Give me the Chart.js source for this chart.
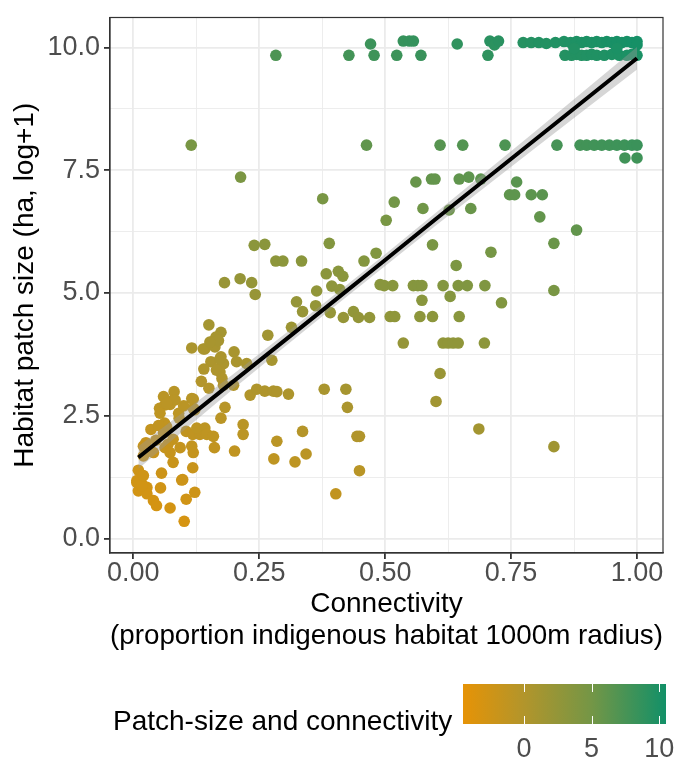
<!DOCTYPE html>
<html>
<head>
<meta charset="utf-8">
<script src="https://cdn.jsdelivr.net/npm/chart.js@4.4.1/dist/chart.umd.min.js"></script>
<style>
  html, body { margin: 0; padding: 0; background: #fff; }
  #wrap { position: relative; width: 675px; height: 760px; font-family: "Liberation Sans", Arial, sans-serif; }
  #chart { position: absolute; left: 0; top: 0; }
  #legend-title { position: absolute; left: 113px; top: 706px; height: 30px; line-height: 30px; font-size: 28px; color: #000; white-space: nowrap; }
  #colorbar { position: absolute; left: 463px; top: 684px; width: 203px; height: 40px; }
  .cb-tick { position: absolute; width: 1px; background: #fff; }
  .cb-label { position: absolute; top: 733px; width: 40px; margin-left: -20px; text-align: center; font-size: 27px; line-height: 30px; color: #4d4d4d; }
</style>
</head>
<body>
<div id="wrap">
  <canvas id="chart" width="675" height="760"></canvas>
  <div id="legend-title">Patch-size and connectivity</div>
  <div id="colorbar"></div>
</div>
<script>
// --- Data ---
// x: connectivity (proportion indigenous habitat, 1000m radius)
// y: habitat patch size (ha, log+1)
const connectivity = [
  0.471, 0.536, 0.548, 0.556, 0.643, 0.708, 0.717, 0.725, 0.774, 0.79, 0.805, 0.82, 0.838, 0.855, 0.868, 0.88, 0.89, 0.9, 0.91, 0.92, 0.93, 0.94, 0.95, 0.96, 0.97, 0.98, 0.99, 1.0, 1.0,
  0.283, 0.428, 0.478, 0.523, 0.571, 0.704, 0.857, 0.87, 0.88, 0.89, 0.9, 0.91, 0.92, 0.935, 0.95, 0.965, 0.98, 0.99, 1.0, 0.875, 0.96,
  0.115, 0.463, 0.609, 0.654, 0.738, 0.841, 0.887, 0.9, 0.915, 0.93, 0.945, 0.96, 0.975, 0.99, 1.0, 0.976, 1.0,
  0.213, 0.561, 0.592, 0.599, 0.647, 0.666, 0.69, 0.761, 0.747, 0.757, 0.79, 0.812, 0.807, 0.88, 0.518, 0.575, 0.627, 0.67, 0.502, 0.594,
  0.71, 0.835, 0.641, 0.376, 0.24, 0.261, 0.389, 0.283, 0.297, 0.334, 0.458, 0.482, 0.383, 0.407, 0.416, 0.181, 0.212, 0.235, 0.242,
  0.49, 0.498, 0.515, 0.556, 0.565, 0.573, 0.615, 0.645, 0.663, 0.698, 0.573, 0.629, 0.731, 0.835, 0.51, 0.519, 0.569, 0.594, 0.647,
  0.536, 0.615, 0.625, 0.635, 0.645, 0.697, 0.609, 0.601, 0.686, 0.835,
  0.324, 0.364, 0.336, 0.362, 0.391, 0.394, 0.41, 0.417, 0.437, 0.447, 0.469, 0.314, 0.267, 0.275, 0.15, 0.174, 0.164, 0.156, 0.142, 0.116,
  0.2, 0.154, 0.174, 0.179, 0.168, 0.172, 0.176, 0.179, 0.205, 0.225, 0.15, 0.199, 0.232, 0.245, 0.261, 0.278, 0.285, 0.308, 0.379, 0.422,
  0.425, 0.182, 0.174,
  0.119, 0.119, 0.081, 0.079, 0.073, 0.06, 0.052, 0.063, 0.091, 0.062, 0.066, 0.035, 0.105, 0.118, 0.132, 0.126, 0.142, 0.146, 0.159, 0.06,
  0.069, 0.079, 0.093, 0.063, 0.161, 0.116, 0.119, 0.02, 0.03, 0.04, 0.02, 0.073, 0.079, 0.201, 0.285, 0.336, 0.279, 0.321, 0.343, 0.218,
  0.218, 0.444, 0.449, 0.449, 0.402,
  0.118, 0.098, 0.122, 0.105, 0.056, 0.054, 0.073, 0.101, 0.01, 0.007, 0.017, 0.027, 0.01, 0.027, 0.04, 0.046, 0.007, 0.017, 0.02, 0.096,
  0.162, 0.169, 0.139, 0.152, 0.172, 0.165, 0.116, 0.122, 0.083, 0.066, 0.053, 0.025, 0.045, 0.05, 0.09, 0.1, 0.135, 0.14
];
const patchSize = [
  10.07, 10.13, 10.13, 10.13, 10.07, 10.13, 10.05, 10.13, 10.1, 10.1, 10.1, 10.08, 10.1, 10.12, 10.1, 10.12, 10.1, 10.12, 10.1, 10.12, 10.1, 10.12, 10.1, 10.12, 10.1, 10.12, 10.1, 10.12, 10.05,
  9.84, 9.84, 9.84, 9.84, 9.84, 9.84, 9.84, 9.84, 9.86, 9.84, 9.84, 9.86, 9.84, 9.84, 9.86, 9.84, 9.84, 9.86, 9.84, 9.98, 9.98,
  8.01, 8.01, 8.01, 8.01, 8.01, 8.01, 8.01, 8.01, 8.01, 8.01, 8.01, 8.01, 8.01, 8.01, 8.01, 7.75, 7.75,
  7.36, 7.26, 7.32, 7.32, 7.32, 7.36, 7.32, 7.26, 7.0, 7.0, 7.0, 7.0, 6.55, 6.28, 6.85, 6.72, 6.69, 6.72, 6.48, 5.98,
  5.83, 6.01, 5.56, 6.92, 5.97, 5.99, 6.01, 5.65, 5.65, 5.65, 5.65, 5.81, 5.39, 5.44, 5.34, 5.21, 5.29, 5.21, 4.97,
  5.17, 5.15, 5.15, 5.15, 5.15, 5.15, 5.15, 5.15, 5.15, 5.15, 4.85, 4.93, 4.8, 5.05, 4.52, 4.52, 4.52, 4.52, 4.52,
  3.98, 3.98, 3.98, 3.98, 3.98, 3.98, 3.36, 2.79, 2.23, 1.87,
  4.82, 5.04, 4.62, 4.74, 4.6, 5.14, 5.07, 4.5, 4.62, 4.5, 4.5, 4.3, 4.14, 3.63, 4.35, 4.2, 4.1, 4.0, 3.86, 3.88,
  3.8, 3.6, 3.7, 3.56, 3.46, 3.39, 3.26, 3.12, 3.6, 3.56, 3.06, 3.12, 2.92, 3.04, 3.0, 3.0, 2.99, 2.94, 3.04, 3.04,
  2.67, 2.67, 2.45,
  2.84, 2.65, 2.99, 2.82, 2.73, 2.89, 2.65, 2.72, 2.45, 2.35, 2.28, 2.22, 2.18, 2.12, 2.12, 2.25, 2.25, 2.12, 2.08, 2.15,
  1.92, 2.02, 1.85, 1.85, 1.85, 1.88, 1.75, 1.88, 1.78, 1.75, 1.68, 1.75, 1.55, 1.78, 1.98, 2.18, 1.62, 1.56, 1.72, 2.32,
  2.12, 2.08, 2.08, 1.38, 0.91,
  1.44, 1.2, 0.94, 0.8, 1.33, 1.03, 0.62, 0.35, 1.39, 1.18, 1.11, 1.04, 0.97, 0.91, 0.77, 0.67, 1.14, 1.07, 1.28, 1.19,
  3.9, 4.03, 3.86, 4.0, 3.66, 3.43, 2.85, 2.62, 2.82, 2.75, 2.55, 1.95, 2.0, 2.3, 2.55, 2.7, 3.2, 3.45
];

// linear fit and its confidence band
const fitX = [0.01, 0.1, 0.2, 0.3, 0.4, 0.5, 0.6, 0.7, 0.8, 0.9, 1.0];
const fitY = [1.65, 2.39, 3.21, 4.03, 4.85, 5.67, 6.5, 7.32, 8.14, 8.96, 9.78];
const bandLower = [1.42, 2.2, 3.06, 3.9, 4.73, 5.55, 6.37, 7.17, 7.97, 8.76, 9.55];
const bandUpper = [1.88, 2.58, 3.36, 4.16, 4.97, 5.79, 6.63, 7.47, 8.31, 9.16, 10.01];

const xTicks = [0, 0.125, 0.25, 0.375, 0.5, 0.625, 0.75, 0.875, 1];
const yTicks = [0, 1.25, 2.5, 3.75, 5, 6.25, 7.5, 8.75, 10];
const legendTicks = [0, 5, 10];
const legendRange = [-4.5, 10.5];

// colour scale (orange -> green)
const colourStops = [
  [0, [230, 147, 6]],
  [0.3, [178, 149, 43]],
  [0.633, [116, 150, 70]],
  [1, [18, 144, 104]]
];

const FONT = "'Liberation Sans', Arial, sans-serif";

function colourAt(t) {
  t = Math.max(0, Math.min(1, t));
  for (let i = 1; i < colourStops.length; i++) {
    const [t1, c1] = colourStops[i];
    const [t0, c0] = colourStops[i - 1];
    if (t <= t1) {
      const f = (t - t0) / (t1 - t0);
      const c = c0.map((v, k) => Math.round(v + (c1[k] - v) * f));
      return `rgb(${c[0]},${c[1]},${c[2]})`;
    }
  }
  return "rgb(18,144,104)";
}

// combined patch-size/connectivity score used for point colour
function scoreColour(x, y) {
  const score = y + 4 * x - 3.8;
  return colourAt((score - legendRange[0]) / (legendRange[1] - legendRange[0]));
}

function isMajor(v, step) {
  return Math.abs(v / step - Math.round(v / step)) < 1e-6;
}

const points = connectivity.map((x, i) => ({ x, y: patchSize[i] }));
const pointColours = points.map((p) => scoreColour(p.x, p.y));

const panelBorder = {
  id: "panelBorder",
  afterDraw(chart) {
    const { ctx, chartArea: a } = chart;
    ctx.save();
    ctx.strokeStyle = "#333333";
    ctx.lineWidth = 1.2;
    ctx.strokeRect(a.left, a.top, a.right - a.left, a.bottom - a.top);
    ctx.restore();
  },
};

const ctx = document.getElementById("chart").getContext("2d");
new Chart(ctx, {
  type: "scatter",
  data: {
    datasets: [
      {
        type: "line",
        label: "fit",
        data: fitX.map((x, i) => ({ x, y: fitY[i] })),
        borderColor: "#000000",
        borderWidth: 4,
        pointRadius: 0,
        fill: false,
        order: 1,
      },
      {
        type: "line",
        label: "lower",
        data: fitX.map((x, i) => ({ x, y: bandLower[i] })),
        borderColor: "rgba(0,0,0,0)",
        borderWidth: 0,
        pointRadius: 0,
        fill: false,
        order: 2,
      },
      {
        type: "line",
        label: "upper",
        data: fitX.map((x, i) => ({ x, y: bandUpper[i] })),
        borderColor: "rgba(0,0,0,0)",
        borderWidth: 0,
        pointRadius: 0,
        fill: "-1",
        backgroundColor: "rgba(153,153,153,0.4)",
        order: 2,
      },
      {
        label: "patches",
        data: points,
        backgroundColor: pointColours,
        borderWidth: 0,
        pointRadius: 5.8,
        pointHoverRadius: 5.8,
        order: 3,
      },
    ],
  },
  options: {
    responsive: false,
    animation: false,
    layout: { padding: { left: 0, right: 12, top: 12, bottom: 107 } },
    plugins: { legend: { display: false }, tooltip: { enabled: false } },
    scales: {
      x: {
        type: "linear",
        min: -0.0463,
        max: 1.0516,
        afterBuildTicks: (s) => { s.ticks = xTicks.map((v) => ({ value: v })); },
        afterFit: (s) => { s.height = 100; },
        ticks: {
          autoSkip: false,
          maxRotation: 0,
          padding: 1,
          color: "#4d4d4d",
          font: { family: FONT, size: 27, lineHeight: 1 },
          callback: (v) => (isMajor(v, 0.25) ? v.toFixed(2) : ""),
        },
        grid: {
          color: "#ebebeb",
          lineWidth: (c) => (isMajor(c.tick.value, 0.25) ? 1.8 : 0.9),
          tickLength: 6,
          tickColor: (c) => (isMajor(c.tick.value, 0.25) ? "#333333" : "rgba(0,0,0,0)"),
        },
        border: { display: true, color: "#333333", width: 1.2 },
        title: {
          display: true,
          text: ["Connectivity", "(proportion indigenous habitat 1000m radius)"],
          color: "#000000",
          font: { family: FONT, size: 28, lineHeight: 1.14 },
          padding: { top: 0, bottom: 1 },
        },
      },
      y: {
        type: "linear",
        min: -0.296,
        max: 10.61,
        afterBuildTicks: (s) => { s.ticks = yTicks.map((v) => ({ value: v })); },
        afterFit: (s) => { s.width = 110; },
        ticks: {
          autoSkip: false,
          padding: 4,
          color: "#4d4d4d",
          font: { family: FONT, size: 27, lineHeight: 1 },
          callback: (v) => (isMajor(v, 2.5) ? v.toFixed(1) : ""),
        },
        grid: {
          color: "#ebebeb",
          lineWidth: (c) => (isMajor(c.tick.value, 2.5) ? 1.8 : 0.9),
          tickLength: 6,
          tickColor: (c) => (isMajor(c.tick.value, 2.5) ? "#333333" : "rgba(0,0,0,0)"),
        },
        border: { display: true, color: "#333333", width: 1.2 },
        title: {
          display: true,
          text: "Habitat patch size (ha, log+1)",
          color: "#000000",
          font: { family: FONT, size: 28, lineHeight: 1 },
          padding: { top: 11, bottom: 0 },
        },
      },
    },
  },
  plugins: [panelBorder],
});

// --- colour bar legend ---
const bar = document.getElementById("colorbar");
const stopsCss = colourStops.map(([t]) => `${colourAt(t)} ${(t * 100).toFixed(1)}%`).join(", ");
bar.style.background = `linear-gradient(to right, ${stopsCss})`;
const barLeft = 463, barWidth = 203, barHeight = 40;
const wrap = document.getElementById("wrap");
legendTicks.forEach((v) => {
  const pos = ((v - legendRange[0]) / (legendRange[1] - legendRange[0])) * barWidth;
  ["top", "bottom"].forEach((edge) => {
    const t = document.createElement("div");
    t.className = "cb-tick";
    t.style.left = pos + "px";
    t.style.height = barHeight / 5 + "px";
    t.style[edge] = "0";
    bar.appendChild(t);
  });
  const lab = document.createElement("div");
  lab.className = "cb-label";
  lab.style.left = barLeft + pos + "px";
  lab.textContent = String(v);
  wrap.appendChild(lab);
});
</script>
</body>
</html>
